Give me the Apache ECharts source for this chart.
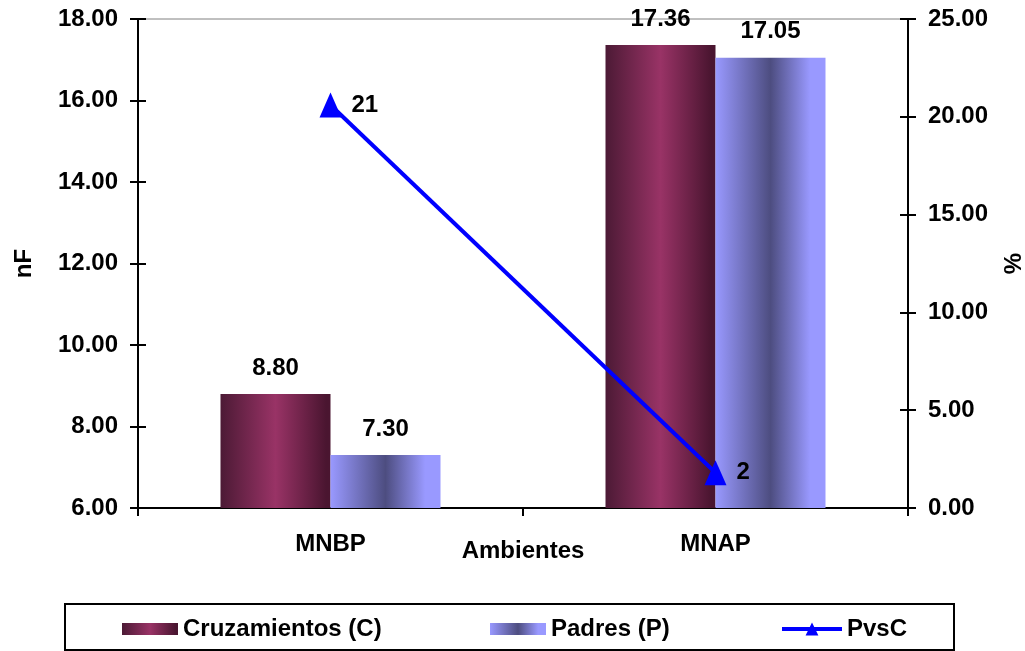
<!DOCTYPE html>
<html>
<head>
<meta charset="utf-8">
<script src="https://cdn.jsdelivr.net/npm/echarts@6/dist/echarts.min.js"></script>
<style>
  html, body { margin: 0; padding: 0; background: #ffffff; }
  #chart { width: 1025px; height: 651px; }
</style>
</head>
<body>
<div id="chart"></div>
<script>
// Environments (category axis)
const ambientes = ['MNBP', 'MNAP'];
// Crosses and parents (left axis, nF)
const cruzamientos = [8.80, 17.36];
const padres = [7.30, 17.05];
// Parents vs crosses (right axis, %)
const pvsc = [20.6, 1.8];

const FONT = "'Liberation Sans', Arial, sans-serif";
const txt = (size) => ({ fontFamily: FONT, fontWeight: 'bold', fontSize: size, color: '#000' });

const cruzFill = {
  type: 'linear', x: 0, y: 0, x2: 1, y2: 0,
  colorStops: [
    { offset: 0, color: '#4c1a35' },
    { offset: 0.5, color: '#993366' },
    { offset: 0.96, color: '#4a1530' },
    { offset: 1, color: '#4a1530' }
  ]
};
const padresFill = {
  type: 'linear', x: 0, y: 0, x2: 1, y2: 0,
  colorStops: [
    { offset: 0, color: '#9999ff' },
    { offset: 0.5, color: '#4d4d80' },
    { offset: 0.86, color: '#9999ff' },
    { offset: 1, color: '#9999ff' }
  ]
};

const chart = echarts.init(document.getElementById('chart'), null, { renderer: 'canvas' });

const legendBase = {
  top: 617, padding: 0, itemHeight: 12, itemGap: 0,
  textStyle: Object.assign(txt(24), { padding: [0, 0, 0, 0] })
};

chart.setOption({
  animation: false,
  backgroundColor: '#ffffff',
  grid: {
    left: 138, right: 117, top: 19, bottom: 143,
    outerBoundsMode: 'none', containLabel: false,
    show: true, borderColor: '#808080', borderWidth: 1, backgroundColor: 'transparent'
  },
  legend: [
    Object.assign({}, legendBase, { left: 122, itemWidth: 56, icon: 'rect', data: ['Cruzamientos (C)'] }),
    Object.assign({}, legendBase, { left: 490, itemWidth: 56, icon: 'rect', data: ['Padres (P)'] }),
    Object.assign({}, legendBase, {
      left: 780, top: 617, itemWidth: 60, itemHeight: 16,
      data: [{ name: 'PvsC', lineStyle: { width: 4, color: '#0000ff' } }]
    })
  ],
  graphic: [{
    type: 'rect',
    shape: { x: 65, y: 604, width: 889, height: 46 },
    style: { fill: 'none', stroke: '#000', lineWidth: 2 },
    silent: true
  }],
  xAxis: {
    type: 'category',
    data: ambientes,
    name: 'Ambientes',
    nameLocation: 'middle',
    nameGap: 31,
    nameMoveOverlap: false,
    nameTextStyle: txt(24),
    axisLine: { lineStyle: { color: '#000', width: 2 } },
    axisTick: { show: true, length: 8, lineStyle: { color: '#000', width: 2 } },
    axisLabel: Object.assign(txt(24), { margin: 24 }),
    splitLine: { show: false }
  },
  yAxis: [
    {
      type: 'value', position: 'left', min: 6, max: 18, interval: 2,
      name: 'nF', nameLocation: 'middle', nameGap: 102, nameRotate: 90,
      nameMoveOverlap: false,
      nameTextStyle: txt(24),
      axisLine: { show: true, lineStyle: { color: '#000', width: 2 } },
      axisTick: { show: true, length: 8, lineStyle: { color: '#000', width: 2 } },
      axisLabel: Object.assign(txt(24), { margin: 20, formatter: v => v.toFixed(2) }),
      splitLine: { show: false }
    },
    {
      type: 'value', position: 'right', min: 0, max: 25, interval: 5,
      name: '%', nameLocation: 'middle', nameGap: 94, nameRotate: 90,
      nameMoveOverlap: false,
      nameTextStyle: txt(24),
      axisLine: { show: true, lineStyle: { color: '#000', width: 2 } },
      axisTick: { show: true, length: 8, lineStyle: { color: '#000', width: 2 } },
      axisLabel: Object.assign(txt(24), { margin: 20, formatter: v => v.toFixed(2) }),
      splitLine: { show: false }
    },
    {
      // inner halves of the crossing tick marks, left
      type: 'value', position: 'left', min: 6, max: 18, interval: 2,
      axisLine: { show: false },
      axisTick: { show: true, inside: true, length: 8, lineStyle: { color: '#000', width: 2 } },
      axisLabel: { show: false }, splitLine: { show: false }
    },
    {
      // inner halves of the crossing tick marks, right
      type: 'value', position: 'right', min: 0, max: 25, interval: 5,
      axisLine: { show: false },
      axisTick: { show: true, inside: true, length: 8, lineStyle: { color: '#000', width: 2 } },
      axisLabel: { show: false }, splitLine: { show: false }
    }
  ],
  series: [
    {
      name: 'Cruzamientos (C)', type: 'bar', yAxisIndex: 0,
      data: cruzamientos, barWidth: 110, barGap: '0%',
      itemStyle: { color: cruzFill },
      label: Object.assign(txt(24), { show: true, position: 'top', distance: 14, formatter: p => p.value.toFixed(2) })
    },
    {
      name: 'Padres (P)', type: 'bar', yAxisIndex: 0,
      data: padres, barWidth: 110, barGap: '0%',
      itemStyle: { color: padresFill },
      label: Object.assign(txt(24), { show: true, position: 'top', distance: 14, formatter: p => p.value.toFixed(2) })
    },
    {
      name: 'PvsC', type: 'line', yAxisIndex: 1,
      data: pvsc,
      symbol: 'triangle', symbolSize: [22, 25],
      lineStyle: { color: '#0000ff', width: 4 },
      itemStyle: { color: '#0000ff' },
      label: Object.assign(txt(24), { show: true, position: 'right', distance: 10, formatter: p => Math.round(p.value).toString() }),
      z: 5
    }
  ]
});
</script>
</body>
</html>
